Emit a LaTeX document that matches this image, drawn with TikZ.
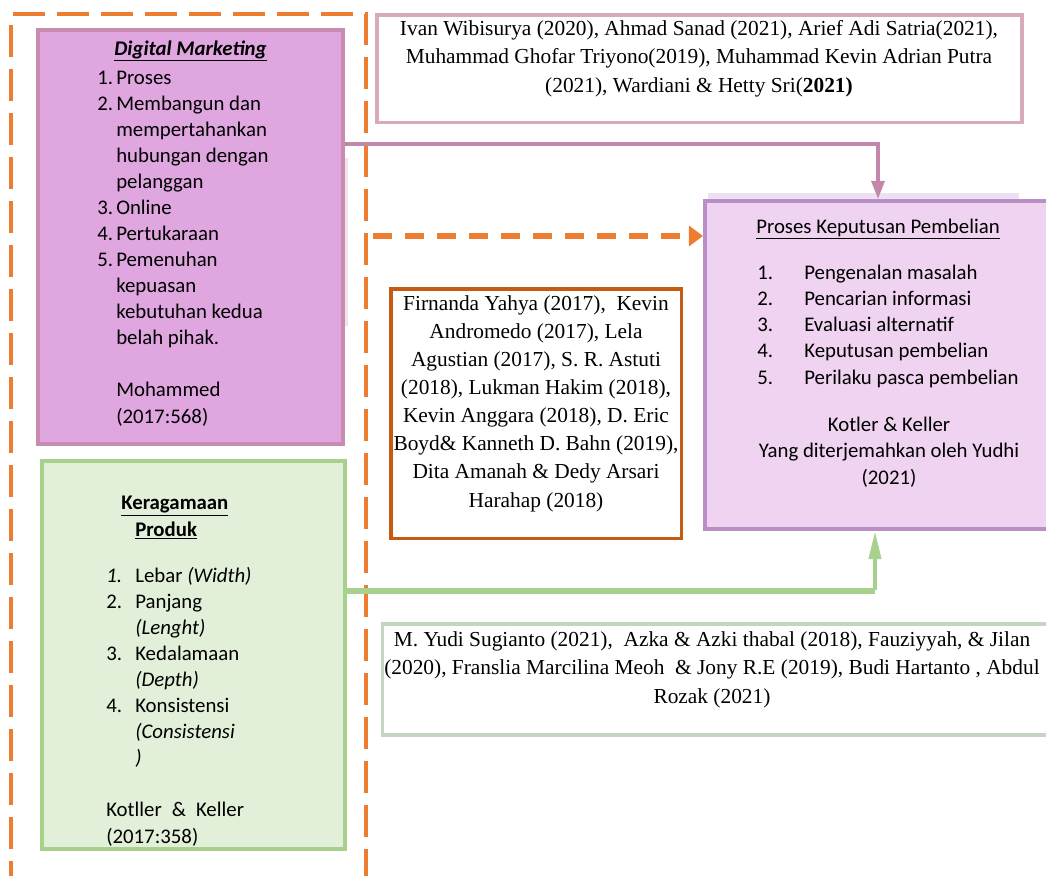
\documentclass[tikz,border=0pt]{standalone}
\usepackage{fontspec}
\setmainfont{Carlito}
\newfontfamily\timesfont{Liberation Serif}
\usepackage{tikz}
\usetikzlibrary{positioning, arrows.meta}
\newcommand{\calib}{\fontsize{14.8pt}{18.5pt}\selectfont}
\newcommand{\reffont}{\timesfont\fontsize{15.2pt}{20pt}\selectfont}
\newcommand{\dmnum}[1]{\makebox[0.475cm][l]{#1}}
\newcommand{\grnum}[1]{\makebox[0.725cm][l]{#1}}
\newcommand{\psnum}[1]{\makebox[1.175cm][l]{#1}}
\definecolor{dmfill}   {RGB}{223, 166, 224}
\definecolor{dmdraw}   {RGB}{201, 139, 176}
\definecolor{krfill}   {RGB}{226, 239, 217}
\definecolor{krdraw}   {RGB}{169, 209, 142}
\definecolor{psfill}   {RGB}{239, 211, 240}
\definecolor{psdraw}   {RGB}{185, 143, 198}
\definecolor{topdraw}  {RGB}{215, 170, 190}
\definecolor{middraw}  {RGB}{197, 90, 17}
\definecolor{botdraw}  {RGB}{197, 214, 192}
\definecolor{pinkline} {RGB}{197, 134, 172}
\definecolor{frameorg} {RGB}{237, 125, 49}
\definecolor{faintband}{RGB}{235, 225, 243}
\definecolor{faintpink}{RGB}{243, 227, 238}
\tikzset{
  % Variable boxes
  dmbox/.style={rectangle, inner sep=0pt, fill=dmfill, draw=dmdraw, line width=2.85pt},
  krbox/.style={rectangle, inner sep=0pt, fill=krfill, draw=krdraw, line width=2.85pt},
  psbox/.style={rectangle, inner sep=0pt, fill=psfill, draw=psdraw, line width=2.85pt},
  % Reference boxes
  refbox/.style={rectangle, inner sep=0pt, fill=white, line width=2.5pt},
  % Box texts (base anchor sits on the last line)
  txt/.style={inner sep=0pt, font=\calib, align=left},
  reftxt/.style={inner sep=0pt, font=\reffont, align=center},
  % Connectors
  frame/.style={line width=2.85pt, color=frameorg, dash pattern=on 0.8cm off 0.3cm},
  pinkarr/.style={-{Triangle[length=12.8pt, width=9.2pt]}, line width=2.4pt, color=pinkline},
  greenline/.style={line width=4.6pt, color=krdraw},
  greenarr/.style={-{Triangle[length=20pt, width=8.6pt]}, line width=3pt, color=krdraw},
  dasharr/.style={-{Triangle[length=10pt, width=14.2pt]}, line width=4.3pt, color=frameorg,
    dash pattern=on 0.475cm off 0.325cm},
}

\begin{document}
\begin{tikzpicture}[x=0.025cm, y=-0.025cm]
  \useasboundingbox (0,0) rectangle (1046,875);

  % faint strips behind boxes
  \fill[faintband] (708,193) rectangle (1019,201);
  \fill[faintpink] (344,158) rectangle (348,326);

  % boxes
  \node[dmbox, minimum width=7.625cm, minimum height=10.35cm] (dm) at (190.5,237) {};
  \node[krbox, minimum width=7.5625cm, minimum height=9.6875cm] (kr) at (193.75,655.25) {};
  \node[psbox, minimum width=8.875cm, minimum height=8.2cm] (ps) at (882.5,365) {};
  \node[refbox, draw=topdraw, minimum width=16.125cm, minimum height=2.6875cm] (reftop) at (699.5,68.75) {};
  \node[refbox, draw=middraw, minimum width=7.2625cm, minimum height=6.2375cm] (refmid) at (536.25,413.75) {};
  \node[refbox, draw=botdraw, minimum width=16.9375cm, minimum height=2.775cm] (refbot) at (721.25,679.5) {};

  % dashed frame
  \draw[frame] (13,14) -- (366,14) -- (366,880);
  \draw[frame] (11,25) -- (11,880);

  % Digital Marketing
  \node[txt, anchor=base] (dmtitle) at (190.5,55) {\underline{\textbf{\textit{Digital Marketing}}}};
  \node[txt, anchor=base west] (dmlist) at (97,423) {%
    \dmnum{1.}Proses\\
    \dmnum{2.}Membangun dan\\
    \dmnum{}mempertahankan\\
    \dmnum{}hubungan dengan\\
    \dmnum{}pelanggan\\
    \dmnum{3.}Online\\
    \dmnum{4.}Pertukaraan\\
    \dmnum{5.}Pemenuhan\\
    \dmnum{}kepuasan\\
    \dmnum{}kebutuhan kedua\\
    \dmnum{}belah pihak.\\[18.5pt]
    \dmnum{}Mohammed\\
    \dmnum{}(2017:568)};

  % Keragamaan Produk
  \node[txt, anchor=base west] (krtitle) at (121,536) {%
    \underline{\textbf{Keragamaan}}\\
    \hspace*{0.35cm}\underline{\textbf{Produk}}};
  \node[txt, anchor=base west] (krlist) at (106,843) {%
    \grnum{\textit{1.}}Lebar \textit{(Width)}\\
    \grnum{2.}Panjang\\
    \grnum{}\textit{(Lenght)}\\
    \grnum{3.}Kedalamaan\\
    \grnum{}\textit{(Depth)}\\
    \grnum{4.}Konsistensi\\
    \grnum{}\textit{(Consistensi}\\
    \grnum{}\textit{)}\\[18.5pt]
    Kotller\hspace{0.25cm}\&\hspace{0.25cm}Keller\\
    (2017:358)};

  % Proses Keputusan Pembelian
  \node[txt, anchor=base] (pstitle) at (878,233) {\underline{Proses Keputusan Pembelian}};
  \node[txt, anchor=base west] (pslist) at (757,384) {%
    \psnum{1.}Pengenalan masalah\\
    \psnum{2.}Pencarian informasi\\
    \psnum{3.}Evaluasi alternatif\\
    \psnum{4.}Keputusan pembelian\\
    \psnum{5.}Perilaku pasca pembelian};
  \node[txt, align=center, anchor=base] (pssrc) at (889,484) {%
    Kotler \& Keller\\
    Yang diterjemahkan oleh Yudhi\\
    (2021)};

  % references
  \node[reftxt, anchor=base] (toptext) at (699,92) {%
    Ivan Wibisurya (2020), Ahmad Sanad (2021), Arief Adi Satria(2021),\\
    Muhammad Ghofar Triyono(2019), Muhammad Kevin Adrian Putra\\
    (2021), Wardiani \& Hetty Sri(\textbf{2021)}};
  \node[reftxt, anchor=base] (midtext) at (536,507) {%
    Firnanda Yahya (2017), \ Kevin\\
    Andromedo (2017), Lela\\
    Agustian (2017), S. R. Astuti\\
    (2018), Lukman Hakim (2018),\\
    Kevin Anggara (2018), D. Eric\\
    Boyd\& Kanneth D. Bahn (2019),\\
    Dita Amanah \& Dedy Arsari\\
    Harahap (2018)};
  \node[reftxt, anchor=base] (bottext) at (712,703) {%
    M. Yudi Sugianto (2021), \ Azka \& Azki thabal (2018), Fauziyyah, \& Jilan\\
    (2020), Franslia Marcilina Meoh \ \& Jony R.E (2019), Budi Hartanto , Abdul\\
    Rozak (2021)};

  % connectors
  \coordinate (pk) at (878,144);
  \coordinate (gk) at (875,591);
  \coordinate (oa) at (373,236);
  \draw[pinkarr] (dm.east |- pk) -- (pk) -- (pk |- ps.north);
  \draw[greenline] (kr.east |- gk) -- (gk);
  \draw[greenarr] ([yshift=0.8pt]gk) -- (gk |- ps.south);
  \draw[dasharr] (oa) -- (oa -| ps.west);
\end{tikzpicture}
\end{document}
